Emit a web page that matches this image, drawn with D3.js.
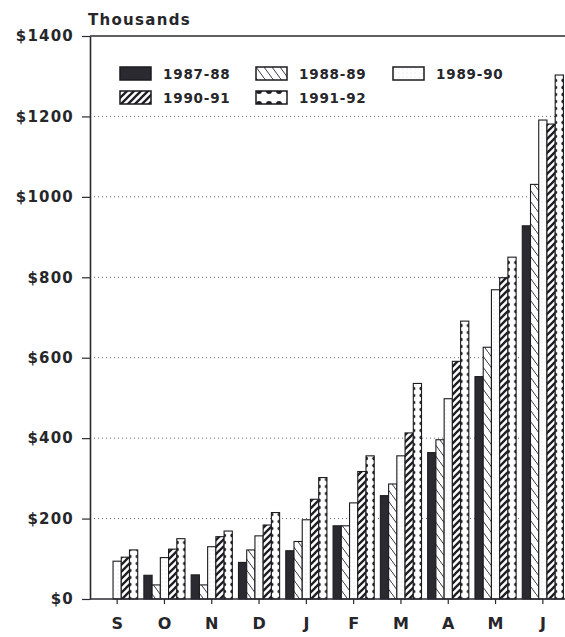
<!DOCTYPE html>
<meta charset="utf-8">
<style>
    body { margin: 0; background: #fff; }
    text { font-family: "DejaVu Sans", sans-serif; font-weight: bold; fill: #26262b; }
    .grid { stroke: #666; stroke-dasharray: 1,3; }
    .frame { stroke: #2a2a30; stroke-width: 1.6; }
    .bar { stroke: #1b1b20; stroke-width: 1.1; }
</style>
<body>
<script src="https://cdn.jsdelivr.net/npm/d3@7"></script>
<script>
// month labels (Sept .. June)
var months = ["S", "O", "N", "D", "J", "F", "M", "A", "M", "J"];
var seriesNames = ["1987-88", "1988-89", "1989-90", "1990-91", "1991-92"];
var yTicks = [0, 200, 400, 600, 800, 1000, 1200, 1400];

// values in thousands of dollars
var v8788 = [0, 59, 60, 91, 120, 182, 257, 364, 553, 928];
var v8889 = [0, 35, 35, 122, 143, 182, 286, 396, 626, 1031];
var v8990 = [94, 103, 130, 157, 197, 239, 356, 498, 769, 1191];
var v9091 = [104, 124, 155, 184, 248, 317, 413, 591, 799, 1181];
var v9192 = [122, 150, 169, 215, 302, 356, 536, 691, 850, 1303];

var seriesValues = [v8788, v8889, v8990, v9091, v9192];
var patternIds = ["p8788", "p8889", "p8990", "p9091", "p9192"];

var width = 565,
    height = 637,
    left = 90,
    right = 565;

var svg = d3.select("body").append("svg")
    .attr("width", width)
    .attr("height", height);

var y = d3.scaleLinear().domain([0, 1400]).range([599, 36]);

var x = d3.scaleBand()
    .domain(d3.range(months.length))
    .range([93.5, 566.5])
    .paddingInner(0.13)
    .paddingOuter(0.065);

var xs = d3.scaleBand()
    .domain(seriesNames)
    .range([0, x.bandwidth()]);

var sw = xs.bandwidth();

// ---- patterns
var defs = svg.append("defs");

defs.append("pattern").attr("id", "p8788")
    .attr("patternUnits", "userSpaceOnUse").attr("width", 4).attr("height", 4)
    .append("rect").attr("width", 4).attr("height", 4).attr("fill", "#2b2a30");

var p2 = defs.append("pattern").attr("id", "p8889")
    .attr("patternUnits", "userSpaceOnUse").attr("width", 8).attr("height", 11);
p2.append("rect").attr("width", 8).attr("height", 11).attr("fill", "#fff");
p2.append("path").attr("d", "M0,0L8,11").attr("stroke", "#3a3a42").attr("stroke-width", 1);

var p3 = defs.append("pattern").attr("id", "p8990")
    .attr("patternUnits", "userSpaceOnUse").attr("width", 4).attr("height", 4);
p3.append("rect").attr("width", 4).attr("height", 4).attr("fill", "#fff");
p3.append("circle").attr("cx", 2).attr("cy", 2).attr("r", 0.45).attr("fill", "#bbb");

var p4 = defs.append("pattern").attr("id", "p9091")
    .attr("patternUnits", "userSpaceOnUse").attr("width", 7).attr("height", 7);
p4.append("rect").attr("width", 7).attr("height", 7).attr("fill", "#fff");
p4.append("path").attr("d", "M-1,8L8,-1M-2,2L2,-2M5,9L9,5")
    .attr("stroke", "#1e1e24").attr("stroke-width", 2.3);

// scalloped dots along both edges of the 1991-92 bars, repeated once per month band
var x0 = x(0) + xs(seriesNames[4]);
var p5 = defs.append("pattern").attr("id", "p9192")
    .attr("patternUnits", "userSpaceOnUse")
    .attr("x", x0).attr("y", 0)
    .attr("width", x.step()).attr("height", 7);
p5.append("rect").attr("width", x.step()).attr("height", 7).attr("fill", "#fff");
p5.append("circle").attr("cx", 0).attr("cy", 3.5).attr("r", 2).attr("fill", "#1e1e24");
p5.append("circle").attr("cx", sw).attr("cy", 3.5).attr("r", 2).attr("fill", "#1e1e24");

// ---- gridlines and frame
svg.selectAll(".grid")
    .data(yTicks.filter(function(d) { return d > 0 && d < 1400; }))
    .enter().append("line")
    .attr("class", "grid")
    .attr("x1", left).attr("x2", right)
    .attr("y1", function(d) { return y(d); })
    .attr("y2", function(d) { return y(d); });

// ---- bars
var groups = svg.selectAll(".series")
    .data(seriesNames)
    .enter().append("g")
    .attr("class", "series");

groups.selectAll("rect")
    .data(function(name, si) {
        return seriesValues[si].map(function(v, mi) {
            return { name: name, si: si, mi: mi, value: v };
        }).filter(function(d) { return d.value > 0; });
    })
    .enter().append("rect")
    .attr("class", "bar")
    .attr("x", function(d) { return x(d.mi) + xs(d.name); })
    .attr("y", function(d) { return y(d.value); })
    .attr("width", sw)
    .attr("height", function(d) { return y(0) - y(d.value); })
    .attr("fill", function(d) { return "url(#" + patternIds[d.si] + ")"; });

svg.append("line").attr("class", "frame")
    .attr("x1", left).attr("x2", right).attr("y1", y(1400)).attr("y2", y(1400));
svg.append("line").attr("class", "frame")
    .attr("x1", left).attr("x2", right).attr("y1", y(0)).attr("y2", y(0));

// ---- axes
var yAxis = svg.append("g")
    .attr("transform", "translate(" + left + ",0)")
    .call(d3.axisLeft(y).tickValues(yTicks).tickSize(8).tickSizeOuter(0).tickPadding(8)
        .tickFormat(function(d) { return "$" + d; }));
yAxis.select(".domain").attr("stroke", "#2a2a30").attr("stroke-width", 1.6);
yAxis.selectAll(".tick line").attr("stroke", "#2a2a30").attr("stroke-width", 1.2);
yAxis.selectAll("text")
    .attr("font-size", 15).attr("letter-spacing", 1.2)
    .style("font-family", "'DejaVu Sans', sans-serif").style("font-weight", "bold")
    .attr("fill", "#26262b");

var xAxis = svg.append("g")
    .attr("transform", "translate(0," + y(0) + ")")
    .call(d3.axisBottom(x).tickSize(5).tickPadding(14)
        .tickFormat(function(i) { return months[i]; }));
xAxis.select(".domain").remove();
xAxis.selectAll(".tick line").attr("stroke", "#2a2a30").attr("stroke-width", 1.2);
xAxis.selectAll("text")
    .attr("font-size", 16)
    .style("font-family", "'DejaVu Sans', sans-serif").style("font-weight", "bold")
    .attr("fill", "#26262b");

svg.append("text")
    .attr("x", 88).attr("y", 25)
    .attr("font-size", 15).attr("letter-spacing", 1.3)
    .text("Thousands");

// ---- legend
var legendPos = [
    [120, 67], [256, 67], [393, 67],
    [120, 91], [256, 91]
];

var lp = defs.append("pattern").attr("id", "p9192L")
    .attr("patternUnits", "userSpaceOnUse")
    .attr("x", legendPos[4][0] + 2).attr("y", legendPos[4][1])
    .attr("width", 10).attr("height", 13);
lp.append("rect").attr("width", 10).attr("height", 13).attr("fill", "#fff");
lp.append("circle").attr("cx", 5).attr("cy", 0).attr("r", 3).attr("fill", "#1e1e24");
lp.append("circle").attr("cx", 5).attr("cy", 13).attr("r", 3).attr("fill", "#1e1e24");

var legend = svg.selectAll(".legend")
    .data(seriesNames)
    .enter().append("g")
    .attr("class", "legend")
    .attr("transform", function(d, i) {
        return "translate(" + legendPos[i][0] + "," + legendPos[i][1] + ")";
    });

legend.append("rect")
    .attr("width", 31).attr("height", 13)
    .attr("fill", function(d, i) { return i == 4 ? "url(#p9192L)" : "url(#" + patternIds[i] + ")"; })
    .attr("stroke", "#1b1b20").attr("stroke-width", 1.5);

legend.append("text")
    .attr("x", 43).attr("y", 12)
    .attr("font-size", 13.5).attr("letter-spacing", 0.8)
    .text(function(d) { return d; });
</script>
</body>
